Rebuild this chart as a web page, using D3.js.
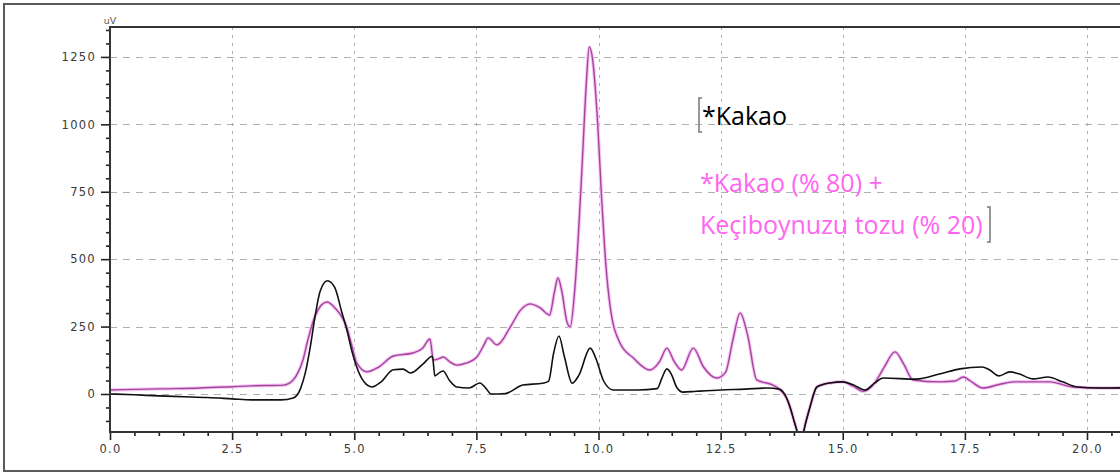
<!DOCTYPE html>
<html>
<head>
<meta charset="utf-8">
<script src="https://cdn.jsdelivr.net/npm/d3@7"></script>
<style>
  body { margin: 0; background: #fff; }
  svg { display: block; }
</style>
</head>
<body>
<div id="chart"></div>
<script>
// retention time (min) and signal (uV)
const kakaoTime = [0, 0.5, 1.0, 1.5, 2.0, 2.5, 2.9, 3.5, 3.75, 3.9, 4.0, 4.1, 4.2, 4.3, 4.45, 4.6, 4.75, 4.85, 4.95, 5.05, 5.2, 5.36, 5.55, 5.8, 6.0, 6.15, 6.4, 6.6, 6.65, 6.75, 6.82, 6.95, 7.1, 7.35, 7.57, 7.7, 7.8, 8.1, 8.45, 8.86, 8.98, 9.08, 9.19, 9.3, 9.46, 9.6, 9.83, 9.95, 10.1, 10.3, 10.8, 11.2, 11.3, 11.4, 11.5, 11.6, 11.73, 12.0, 12.5, 13.0, 13.45, 13.7, 13.85, 13.92, 14.02, 14.1, 14.17, 14.25, 14.33, 14.47, 14.74, 15.0, 15.2, 15.46, 15.65, 15.83, 16.5, 17.0, 17.4, 17.85, 18.0, 18.2, 18.42, 18.6, 18.9, 19.2, 19.5, 19.8, 20.27, 21.0];
const kakaoValue = [0, -3, -7, -10, -13, -18, -22, -22, -15, 20, 80, 175, 290, 380, 420, 395, 300, 237, 160, 100, 45, 26, 45, 90, 92, 78, 110, 140, 67, 80, 85, 50, 26, 22, 41, 20, 0, 2, 33, 40, 48, 150, 215, 140, 40, 70, 170, 130, 50, 15, 15, 20, 60, 93, 70, 25, 7, 10, 15, 18, 22, 18, -15, -48, -110, -150, -150, -100, -48, 26, 41, 45, 35, 15, 40, 59, 55, 75, 93, 100, 90, 67, 82, 75, 56, 63, 45, 26, 22, 24];

const blendTime = [0, 0.5, 1.0, 1.84, 2.5, 2.87, 3.55, 3.75, 3.85, 3.95, 4.05, 4.2, 4.44, 4.6, 4.85, 4.95, 5.05, 5.26, 5.5, 5.8, 6.2, 6.4, 6.55, 6.62, 6.72, 6.82, 6.95, 7.1, 7.3, 7.51, 7.65, 7.74, 7.92, 8.2, 8.4, 8.6, 8.8, 9.0, 9.1, 9.17, 9.25, 9.35, 9.42, 9.52, 9.66, 9.75, 9.81, 9.88, 9.97, 10.07, 10.15, 10.24, 10.44, 10.71, 11.05, 11.25, 11.4, 11.55, 11.7, 11.94, 12.15, 12.42, 12.6, 12.75, 12.9, 13.05, 13.24, 13.57, 13.7, 13.85, 13.92, 14.02, 14.1, 14.17, 14.25, 14.33, 14.47, 14.74, 15.0, 15.2, 15.42, 15.65, 15.85, 16.07, 16.25, 16.44, 17.0, 17.3, 17.47, 17.6, 17.87, 18.2, 18.5, 19.24, 19.7, 20.27, 21.0];
const blendValue = [15, 17, 19, 22, 27, 30, 33, 52, 80, 126, 200, 290, 341, 320, 245, 180, 115, 82, 100, 141, 152, 170, 204, 126, 130, 137, 120, 107, 115, 137, 180, 208, 182, 250, 310, 334, 320, 293, 380, 430, 380, 270, 248, 400, 831, 1150, 1287, 1240, 1042, 708, 480, 323, 189, 134, 89, 120, 170, 120, 89, 170, 100, 59, 80, 200, 300, 220, 52, 33, 18, -15, -48, -110, -150, -150, -100, -48, 26, 41, 45, 30, 10, 40, 100, 156, 110, 52, 45, 48, 63, 50, 22, 35, 45, 45, 26, 22, 25];

const xTicks = [0, 2.5, 5, 7.5, 10, 12.5, 15, 17.5, 20];
const yTicks = [0, 250, 500, 750, 1000, 1250];
const legendKakao = "*Kakao";
const legendBlend = ["*Kakao (% 80) +", "Keçiboynuzu tozu (% 20)"];

const width = 1120, height = 473;
const plot = { left: 110, top: 27, bottom: 432 };

const svg = d3.select("#chart").append("svg")
    .attr("width", width)
    .attr("height", height);

// outer frame
svg.append("rect")
    .attr("x", 4).attr("y", 4)
    .attr("width", 1140).attr("height", 467)
    .attr("fill", "#fff")
    .attr("stroke", "#5a5a5a")
    .attr("stroke-width", 2);

let x = d3.scaleLinear()
    .domain([0, 21])
    .range([plot.left, plot.left + 48.85 * 21]);

let y = d3.scaleLinear()
    .domain([-141, 1361])
    .range([plot.bottom, plot.top]);

// grid
svg.append("g").selectAll("line")
    .data(yTicks)
    .join("line")
    .attr("x1", plot.left).attr("x2", width)
    .attr("y1", d => Math.round(y(d)) + 0.5).attr("y2", d => Math.round(y(d)) + 0.5)
    .attr("stroke", "#b0b0b0")
    .attr("stroke-dasharray", "7,6");

svg.append("g").selectAll("line")
    .data(xTicks.filter(d => d > 0))
    .join("line")
    .attr("x1", d => Math.round(x(d)) + 0.5).attr("x2", d => Math.round(x(d)) + 0.5)
    .attr("y1", plot.top).attr("y2", plot.bottom)
    .attr("stroke", "#b0b0b0")
    .attr("stroke-dasharray", "3,5");

// clip the traces to the plot area
svg.append("clipPath").attr("id", "clip")
    .append("rect")
    .attr("x", plot.left).attr("y", plot.top)
    .attr("width", width - plot.left).attr("height", plot.bottom - plot.top);

const line = d3.line()
    .x(d => x(d[0]))
    .y(d => y(d[1]))
    .curve(d3.curveMonotoneX);

const blend = blendTime.map((t, i) => [t, blendValue[i]]);
const kakao = kakaoTime.map((t, i) => [t, kakaoValue[i]]);

const traces = svg.append("g").attr("clip-path", "url(#clip)");

// pink glow under the purple trace
traces.append("path")
    .attr("d", line(blend))
    .attr("fill", "none")
    .attr("stroke", "#f6c4f2")
    .attr("stroke-width", 3.5);

traces.append("path")
    .attr("d", line(blend))
    .attr("fill", "none")
    .attr("stroke", "#a3449f")
    .attr("stroke-width", 1.4);

traces.append("path")
    .attr("d", line(kakao))
    .attr("fill", "none")
    .attr("stroke", "#111")
    .attr("stroke-width", 1.6);

// axes
const minorY = d3.range(-100, 1351, 50).filter(d => d % 250 !== 0);
const minorX = d3.range(0.5, 21, 0.5).filter(d => d % 2.5 !== 0);

const yAxis = svg.append("g")
    .attr("transform", `translate(${plot.left},0)`)
    .call(d3.axisLeft(y).tickValues(yTicks).tickFormat(d3.format("d")).tickSize(9).tickPadding(5).tickSizeOuter(0));
yAxis.select(".domain").remove();
svg.append("g")
    .attr("transform", `translate(${plot.left},0)`)
    .call(d3.axisLeft(y).tickValues(minorY).tickSize(4).tickFormat("").tickSizeOuter(0))
    .select(".domain").remove();

const xAxis = svg.append("g")
    .attr("transform", `translate(0,${plot.bottom})`)
    .call(d3.axisBottom(x).tickValues(xTicks).tickFormat(d3.format(".1f")).tickSize(8).tickPadding(5).tickSizeOuter(0));
xAxis.select(".domain").remove();
svg.append("g")
    .attr("transform", `translate(0,${plot.bottom})`)
    .call(d3.axisBottom(x).tickValues(minorX).tickSize(4).tickFormat("").tickSizeOuter(0))
    .select(".domain").remove();

svg.selectAll(".tick line").attr("stroke", "#222").attr("stroke-width", 1.6);
svg.selectAll(".tick text")
    .attr("fill", "#3a3a3a")
    .style("font-family", "DejaVu Sans")
    .style("font-size", "11.5px")
    .style("letter-spacing", "1.3px");

// plot frame lines (left, top, bottom)
svg.append("path")
    .attr("d", `M${width},${plot.top}H${plot.left}V${plot.bottom}H${width}`)
    .attr("fill", "none")
    .attr("stroke", "#333")
    .attr("stroke-width", 2);

svg.append("text")
    .attr("x", plot.left).attr("y", 24)
    .attr("text-anchor", "middle")
    .attr("fill", "#555")
    .style("font-family", "DejaVu Sans")
    .style("font-size", "9.5px")
    .text("uV");

// legend text
const legendFont = "'Open Sans', 'Noto Sans', sans-serif";
svg.append("text")
    .attr("x", 702).attr("y", 125)
    .attr("fill", "#000")
    .style("font-family", legendFont)
    .style("font-size", "25px")
    .text(legendKakao);

svg.append("g").selectAll("text")
    .data(legendBlend)
    .join("text")
    .attr("x", 700)
    .attr("y", (d, i) => 192 + i * 42)
    .attr("fill", "#ff66f0")
    .style("font-family", legendFont)
    .style("font-size", "25px")
    .text(d => d);

// text-box brackets
svg.append("path")
    .attr("d", "M702,98H699V132H702")
    .attr("fill", "none").attr("stroke", "#777").attr("stroke-width", 1.5);
svg.append("path")
    .attr("d", "M987,207H990V242H987")
    .attr("fill", "none").attr("stroke", "#777").attr("stroke-width", 1.5);
</script>
</body>
</html>
